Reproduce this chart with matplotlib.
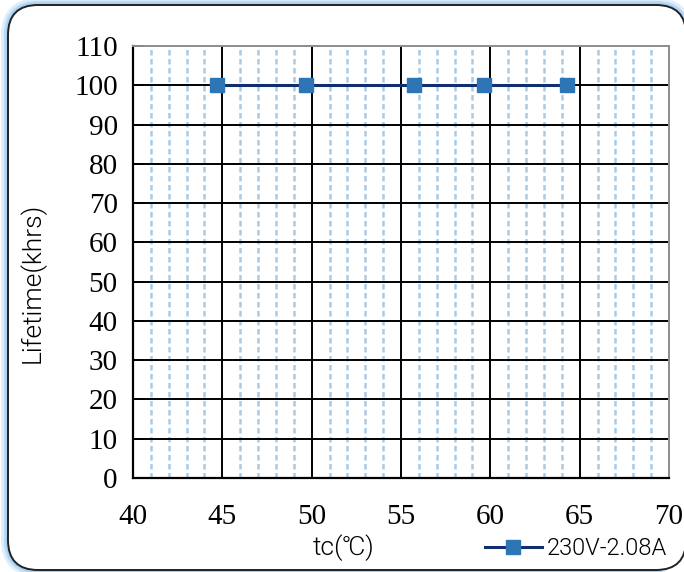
import matplotlib
matplotlib.use("Agg")
import matplotlib.pyplot as plt
from matplotlib.patches import FancyBboxPatch

tc = [44.7, 49.7, 55.7, 59.65, 64.3]
lifetime = [100, 100, 100, 100, 100]
series_label = "230V-2.08A"
x_ticks = [40, 45, 50, 55, 60, 65, 70]
y_ticks = list(range(0, 111, 10))

SANS = ["Roboto", "Noto Sans CJK SC", "DejaVu Sans"]

fig = plt.figure(figsize=(6.84, 5.72), dpi=100)

# background frame in pixel coordinates
bg = fig.add_axes([0, 0, 1, 1], zorder=-5)
bg.set_xlim(0, 684)
bg.set_ylim(572, 0)
bg.axis("off")
for lw, alpha in [(10, 0.35), (6, 0.6), (3.5, 0.9)]:
    bg.add_patch(FancyBboxPatch((8, 5), 678, 565, boxstyle="round,pad=0,rounding_size=30",
                                fill=False, edgecolor="#a6cff3", linewidth=lw, alpha=alpha))
bg.add_patch(FancyBboxPatch((8, 5), 678, 565, boxstyle="round,pad=0,rounding_size=30",
                            facecolor="white", edgecolor="#222222", linewidth=1.4))

ax = fig.add_axes([133/684, 1-478/572, (669-133)/684, (478-46)/572])
ax.set_xlim(40, 70)
ax.set_ylim(0, 110)
ax.patch.set_alpha(0)

# minor dashed gridlines
for xv in range(41, 70):
    if xv % 5 != 0:
        ax.axvline(xv, color="#a9cbe6", linestyle=(0, (2.2, 1.4)), linewidth=1.8, zorder=1)
for xv in x_ticks[1:-1]:
    ax.axvline(xv, color="black", linewidth=1.4, zorder=1.5)
for yv in y_ticks[1:-1]:
    ax.axhline(yv, color="black", linewidth=1.4, zorder=1.5)

ax.plot(tc, lifetime, color="#112e6e", linewidth=2.2, marker="s", markersize=10,
        markerfacecolor="#2e75b6", markeredgecolor="#2e75b6", zorder=3, label=series_label)

ax.set_xticks(x_ticks)
ax.set_yticks(y_ticks)
ax.tick_params(axis="x", length=0, pad=19, labelsize=21)
ax.tick_params(axis="y", direction="in", length=7, width=1.4, pad=11, labelsize=21)
for lbl in ax.get_xticklabels() + ax.get_yticklabels():
    lbl.set_fontfamily("Liberation Serif")

for s in ["left", "bottom"]:
    ax.spines[s].set_color("black")
    ax.spines[s].set_linewidth(1.6)
for s in ["top", "right"]:
    ax.spines[s].set_color("#8c8c8c")
    ax.spines[s].set_linewidth(1.4)

fig.text(32/684, 1-283/572, "Lifetime(khrs)", rotation=90, ha="center", va="center",
         fontsize=19, fontweight=300, family=SANS)
fig.text(344/684, 1-548/572, "tc(℃)", ha="center", va="center",
         fontsize=19, fontweight=300, family=SANS)

leg = ax.legend(loc="lower right", bbox_to_anchor=(688/684, -0.016), bbox_transform=fig.transFigure,
                frameon=False, handlelength=2.4, handletextpad=0.2,
                prop={"family": SANS, "size": 17, "weight": 300})

fig.savefig("out.png", dpi=100)
